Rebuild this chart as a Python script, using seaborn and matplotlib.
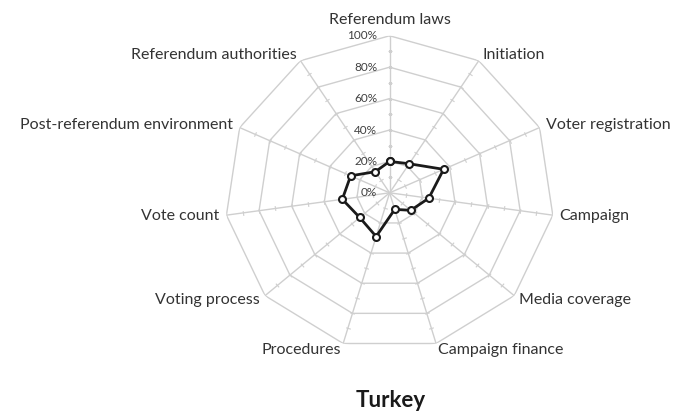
#------------------------------------------------------------------------------
# Libraries
#------------------------------------------------------------------------------

import numpy as np
import pandas as pd
import seaborn as sns
import matplotlib.pyplot as plt

#------------------------------------------------------------------------------
# Data
#------------------------------------------------------------------------------

categories = ['Referendum laws', 'Initiation', 'Voter registration', 'Campaign',
              'Media coverage', 'Campaign finance', 'Procedures', 'Voting process',
              'Vote count', 'Post-referendum environment', 'Referendum authorities']
scores = [20, 22, 36, 24, 17, 11, 29, 24, 29, 26, 16]
ring_levels = [0, 20, 40, 60, 80, 100]
ring_labels = ['0%', '20%', '40%', '60%', '80%', '100%']
minor_levels = [10, 20, 30, 40, 50, 60, 70, 80, 90]
country = 'Turkey'

#------------------------------------------------------------------------------
# Figure
#------------------------------------------------------------------------------

sns.set_theme(style='white')
plt.rcParams['font.family'] = ['Lato', 'DejaVu Sans']

fig = plt.figure(figsize=(6.77, 4.16), dpi=100)
ax = fig.add_axes([0.332, 0.159, 0.487, 0.755], projection='polar')
ax.set_aspect('auto')
ax.set_theta_zero_location('N')
ax.set_theta_direction(-1)

n = len(categories)
angles = np.linspace(0, 2 * np.pi, n, endpoint=False)
closed = np.append(angles, 2 * np.pi)

grid_col = '#cfcfcf'

# polygon rings
for lvl in ring_levels[1:]:
    ax.plot(closed, [lvl] * (n + 1), color=grid_col, lw=1, zorder=1)

# spokes with small tick marks
for a in angles:
    ax.plot([a, a], [0, ring_levels[-1]], color=grid_col, lw=1, zorder=1)
    ax.plot([a] * len(minor_levels), minor_levels, ls='none',
            marker=(2, 0, 90 - np.degrees(a)), ms=3.5, mec=grid_col, mew=0.8, zorder=1)

# data series
df = pd.DataFrame({'theta': closed, 'score': scores + scores[:1]})
sns.lineplot(data=df, x='theta', y='score', ax=ax, sort=False, color='#1a1a1a',
             lw=2, marker='o', ms=5, mfc='white', mec='#1a1a1a', mew=1.5, zorder=3)

ax.set_ylim(0, 100)
ax.set_xticks([])
ax.set_yticks([])
ax.grid(False)
ax.spines['polar'].set_visible(False)
ax.set_xlabel('')
ax.set_ylabel('')
ax.patch.set_alpha(0)

# category labels
for a, lab in zip(angles, categories):
    s, c = np.sin(a), np.cos(a)
    if abs(s) < 0.1 and c > 0:
        ax.annotate(lab, xy=(a, 100), xytext=(0, 6), textcoords='offset points',
                    ha='center', va='bottom', fontsize=11.5, color='#333333')
        continue
    ha = 'left' if s > 0 else 'right'
    ax.annotate(lab, xy=(a, 100), xytext=(5 * s, 5 * c), textcoords='offset points',
                ha=ha, va='center', fontsize=11.5, color='#333333')

# radial value labels along the top spoke
for lvl, lab in zip(ring_levels, ring_labels):
    ax.annotate(lab, xy=(0, lvl), xytext=(-9, 0), textcoords='offset points',
                ha='right', va='center', fontsize=8.5, color='#404040')

fig.text(391 / 677, 1 - 407 / 416, country, ha='center', va='baseline',
         fontsize=16, fontweight='bold', color='#1a1a1a')

fig.savefig('out.png', dpi=100)
